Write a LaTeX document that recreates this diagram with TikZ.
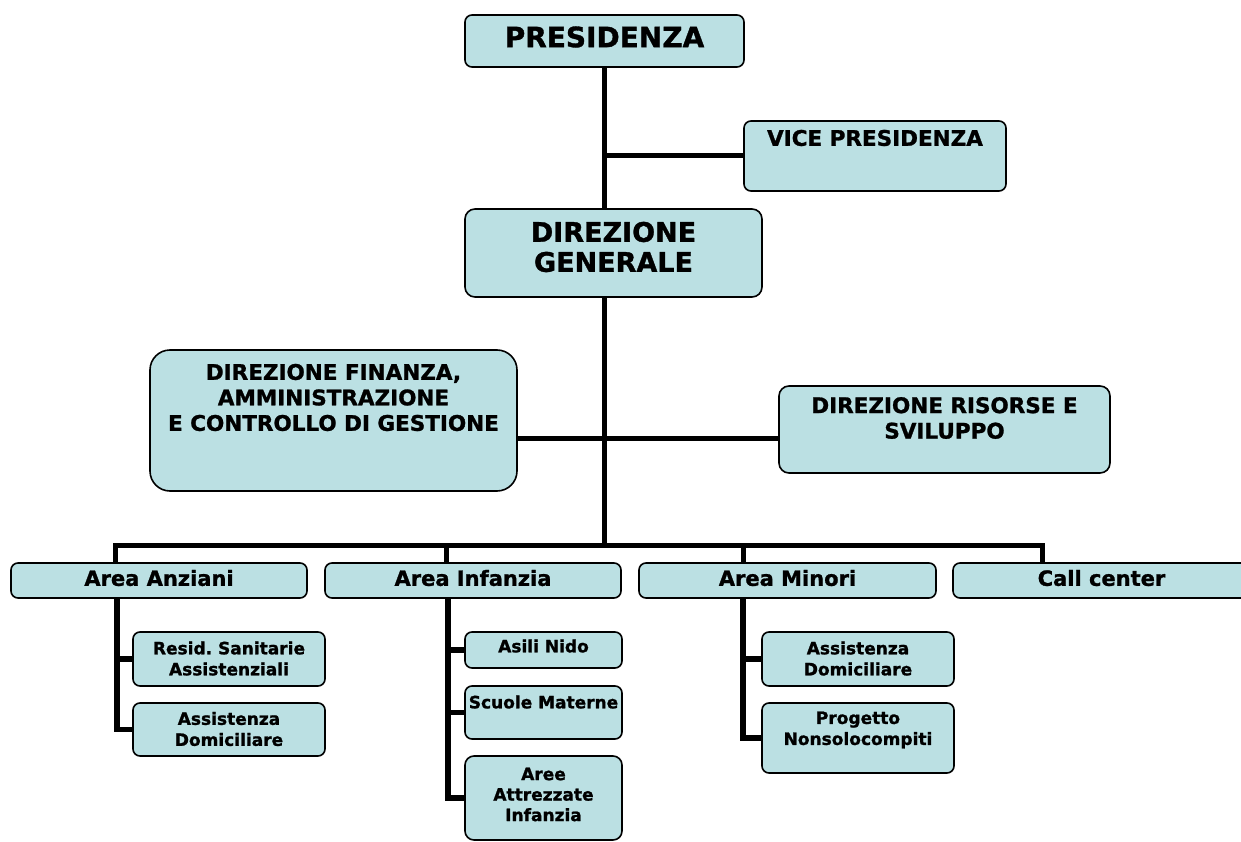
\documentclass[tikz,border=0pt]{standalone}
\usepackage{fontspec}
\setmainfont{DejaVu Sans}[BoldFeatures={FakeBold=1.2}]
\usetikzlibrary{backgrounds}
\definecolor{boxfill}{RGB}{187,224,227}
\tikzset{
  box/.style={draw=black, line width=1.6pt, fill=boxfill, rounded corners=7pt, inner sep=0pt},
  conn/.style={draw=black, line width=5pt, line join=miter},
  subconn/.style={draw=black, line width=5.5pt, line join=miter},
  txtbig/.style={inner sep=0pt, align=center, font=\bfseries\fontsize{28}{30}\selectfont},
  txtmid/.style={inner sep=0pt, align=center, font=\bfseries\fontsize{21.5}{25.5}\selectfont},
  txtarea/.style={inner sep=0pt, align=center, font=\bfseries\fontsize{21}{25}\selectfont},
  txtsmall/.style={inner sep=0pt, align=center, font=\bfseries\fontsize{17}{21}\selectfont},
}
\begin{document}
\begin{tikzpicture}[x=1pt,y=-1pt]
\useasboundingbox (0,0) rectangle (1241,842);
\clip (0,0) rectangle (1241,842);
% boxes
\node[box, minimum width=279, minimum height=52] (pres) at (604.5,41) {};
\node[box, minimum width=262, minimum height=70] (vice) at (875,156) {};
\node[box, minimum width=297, minimum height=88, rounded corners=10pt] (dg) at (613.5,253) {};
\node[box, minimum width=367, minimum height=141, rounded corners=20pt] (fin) at (333.5,420.5) {};
\node[box, minimum width=331, minimum height=87, rounded corners=10pt] (ris) at (944.5,429.5) {};
\node[box, minimum width=296, minimum height=35] (anz) at (159,580.5) {};
\node[box, minimum width=296, minimum height=35] (inf) at (473,580.5) {};
\node[box, minimum width=297, minimum height=35] (min) at (787.5,580.5) {};
\node[box, minimum width=297, minimum height=35] (call) at (1101.5,580.5) {};
\node[box, minimum width=192, minimum height=54] (rsa) at (229,659) {};
\node[box, minimum width=192, minimum height=53] (ad1) at (229,729.5) {};
\node[box, minimum width=157, minimum height=36] (asn) at (543.5,650) {};
\node[box, minimum width=157, minimum height=53] (scm) at (543.5,712.5) {};
\node[box, minimum width=157, minimum height=84, rounded corners=9pt] (aai) at (543.5,798) {};
\node[box, minimum width=192, minimum height=54] (ad2) at (858,659) {};
\node[box, minimum width=192, minimum height=70] (pnc) at (858,738) {};
% texts
\node[txtbig] (presT) at (604.5,37) {PRESIDENZA};
\node[txtmid] (viceT) at (875,138) {VICE PRESIDENZA};
\node[txtbig, font=\bfseries\fontsize{27}{30}\selectfont] (dgT) at (613.5,247) {DIREZIONE\\GENERALE};
\node[txtmid] (finT) at (333.5,397.5) {DIREZIONE FINANZA,\\AMMINISTRAZIONE\\E CONTROLLO DI GESTIONE};
\node[txtmid] (risT) at (944.5,418) {DIREZIONE RISORSE E\\SVILUPPO};
\node[txtarea] (anzT) at (159,578) {Area Anziani};
\node[txtarea] (infT) at (473,578) {Area Infanzia};
\node[txtarea] (minT) at (787.5,578) {Area Minori};
\node[txtarea] (callT) at (1101.5,578) {Call center};
\node[txtsmall] (rsaT) at (229,658.5) {Resid.\ Sanitarie\\Assistenziali};
\node[txtsmall] (ad1T) at (229,729) {Assistenza\\Domiciliare};
\node[txtsmall] (asnT) at (543.5,646) {Asili Nido};
\node[txtsmall] (scmT) at (543.5,702) {Scuole Materne};
\node[txtsmall, font=\bfseries\fontsize{17}{20.5}\selectfont] (aaiT) at (543.5,794.5) {Aree\\Attrezzate\\Infanzia};
\node[txtsmall] (ad2T) at (858,658.5) {Assistenza\\Domiciliare};
\node[txtsmall] (pncT) at (858,730) {Progetto\\Nonsolocompiti};
% connector coordinates
\coordinate (hl) at (604,438);
\coordinate (bus) at (604,545);
\coordinate (d1) at (115,545);
\coordinate (d2) at (446,545);
\coordinate (d3) at (743,545);
\coordinate (d4) at (1042,545);
\coordinate (s1) at (117,0);
\coordinate (s2) at (448,0);
\coordinate (s3) at (743,0);
\begin{scope}[on background layer]
\draw[conn] (pres.south) -- (pres.south |- bus);
\draw[conn] (vice.west) -- (vice.west -| pres.south);
\draw[conn] (fin.east |- hl) -- (ris.west |- hl);
\draw[conn] (d1 |- anz.north) -- (d1) -- (d4) -- (d4 |- call.north);
\draw[conn] (d2) -- (d2 |- inf.north);
\draw[conn] (d3) -- (d3 |- min.north);
\draw[subconn] (s1 |- anz.south) -- (s1 |- ad1.west) -- (ad1.west);
\draw[subconn] (s1 |- rsa.west) -- (rsa.west);
\draw[subconn] (s2 |- inf.south) -- (s2 |- aai.west) -- (aai.west);
\draw[subconn] (s2 |- asn.west) -- (asn.west);
\draw[subconn] (s2 |- scm.west) -- (scm.west);
\draw[subconn] (s3 |- min.south) -- (s3 |- pnc.west) -- (pnc.west);
\draw[subconn] (s3 |- ad2.west) -- (ad2.west);
\end{scope}
\end{tikzpicture}
\end{document}
